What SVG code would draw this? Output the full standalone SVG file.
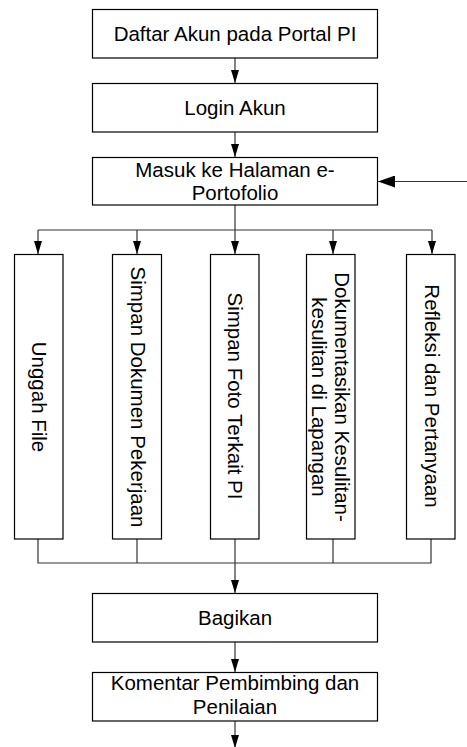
<svg xmlns="http://www.w3.org/2000/svg" width="467" height="747" viewBox="0 0 467 747">
<style>
.box{fill:#fff;stroke:#000;stroke-width:1.2}
.t{font-family:"Liberation Sans",Arial,sans-serif;font-size:20.5px;fill:#000;text-anchor:middle}
.ln{fill:none;stroke:#333;stroke-width:1.2}
</style>
<defs>
<marker id="ah" markerUnits="userSpaceOnUse" markerWidth="14" markerHeight="10" refX="13" refY="4" orient="auto">
<path d="M0,0 L13,4 L0,8 Z" fill="#000"/>
</marker>
<marker id="ah2" markerUnits="userSpaceOnUse" markerWidth="18" markerHeight="12" refX="17" refY="6" orient="auto">
<path d="M0,0 L17,6 L0,12 Z" fill="#000"/>
</marker>
</defs>
<g id="connectors">
<line class="ln" x1="235" y1="58" x2="235" y2="83" marker-end="url(#ah)"/>
<line class="ln" x1="235" y1="132" x2="235" y2="157" marker-end="url(#ah)"/>
<line class="ln" x1="235" y1="205" x2="235" y2="230"/>
<line class="ln" x1="38" y1="230" x2="432" y2="230"/>
<line class="ln" x1="38" y1="230" x2="38" y2="254" marker-end="url(#ah)"/>
<line class="ln" x1="137" y1="230" x2="137" y2="254" marker-end="url(#ah)"/>
<line class="ln" x1="235" y1="230" x2="235" y2="254" marker-end="url(#ah)"/>
<line class="ln" x1="333" y1="230" x2="333" y2="254" marker-end="url(#ah)"/>
<line class="ln" x1="432" y1="230" x2="432" y2="254" marker-end="url(#ah)"/>
<line class="ln" x1="467" y1="181.5" x2="378" y2="181.5" marker-end="url(#ah2)"/>
<polyline class="ln" points="38,539 38,563 431,563 431,539"/>
<line class="ln" x1="137" y1="539" x2="137" y2="563"/>
<line class="ln" x1="333" y1="539" x2="333" y2="563"/>
<line class="ln" x1="235" y1="539" x2="235" y2="593" marker-end="url(#ah)"/>
<line class="ln" x1="235" y1="642" x2="235" y2="672" marker-end="url(#ah)"/>
<line class="ln" x1="235" y1="721" x2="235" y2="748" marker-end="url(#ah)"/>
</g>
<g id="n1"><rect class="box" x="92.5" y="9.5" width="285" height="48.5"/><text class="t" x="235" y="40.5">Daftar Akun pada Portal PI</text></g>
<g id="n2"><rect class="box" x="92.5" y="83.5" width="285" height="48.5"/><text class="t" x="235" y="114.5">Login Akun</text></g>
<g id="n3"><rect class="box" x="92.5" y="157.5" width="285" height="47.5"/><text class="t" x="235" y="177">Masuk ke Halaman e-</text><text class="t" x="235" y="199.5">Portofolio</text></g>
<g id="n4"><rect class="box" x="14.5" y="254.5" width="48.5" height="284.5"/><text class="t" transform="translate(38.5,397) rotate(90)" x="0" y="6.5">Unggah File</text></g>
<g id="n5"><rect class="box" x="112.5" y="254.5" width="49" height="284.5"/><text class="t" transform="translate(137,397) rotate(90)" x="0" y="6.5">Simpan Dokumen Pekerjaan</text></g>
<g id="n6"><rect class="box" x="210.5" y="254.5" width="48.5" height="284.5"/><text class="t" transform="translate(234.5,396) rotate(90)" x="0" y="6.5">Simpan Foto Terkait PI</text></g>
<g id="n7"><rect class="box" x="306.5" y="254.5" width="48.5" height="284.5"/><text class="t" transform="translate(330.5,397) rotate(90)" x="0" y="-4.5">Dokumentasikan Kesulitan-</text><text class="t" transform="translate(330.5,397) rotate(90)" x="0" y="18.5">kesulitan di Lapangan</text></g>
<g id="n8"><rect class="box" x="406.5" y="254.5" width="48.5" height="284.5"/><text class="t" transform="translate(430.5,396) rotate(90)" x="0" y="5.5">Refleksi dan Pertanyaan</text></g>
<g id="n9"><rect class="box" x="92.5" y="593.5" width="285" height="48.5"/><text class="t" x="235" y="624.5">Bagikan</text></g>
<g id="n10"><rect class="box" x="92.5" y="672.5" width="285" height="48.5"/><text class="t" x="235" y="690">Komentar Pembimbing dan</text><text class="t" x="235" y="713.5">Penilaian</text></g>
</svg>
